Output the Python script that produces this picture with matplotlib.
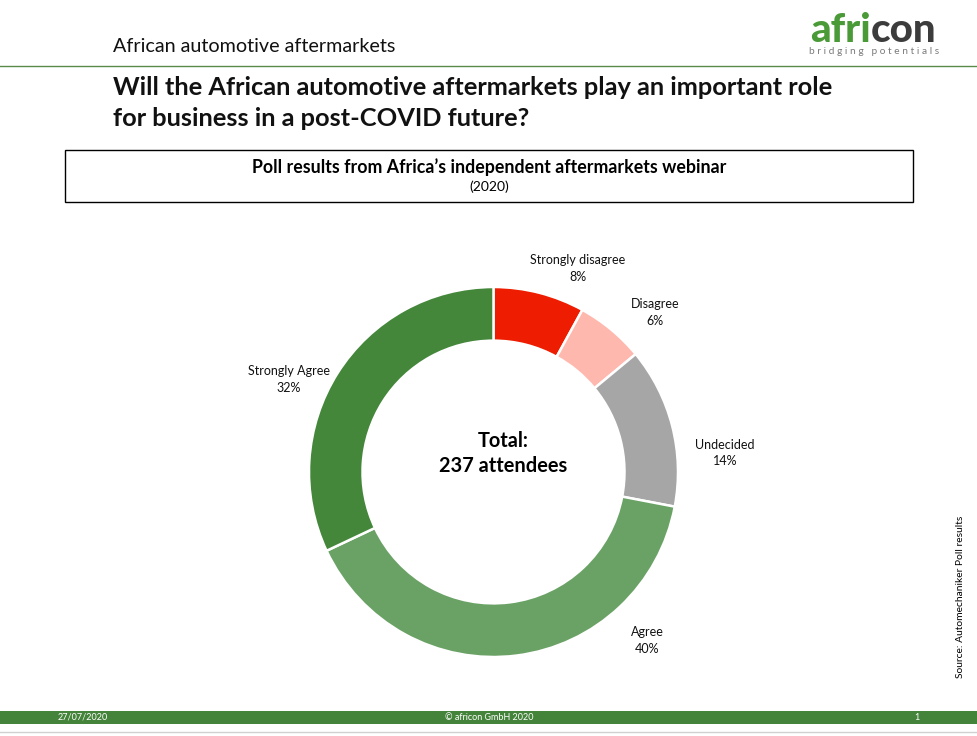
import matplotlib
matplotlib.use("Agg")
import matplotlib.pyplot as plt
from matplotlib.patches import Rectangle

plt.rcParams['font.family'] = ['Lato', 'DejaVu Sans']

# poll data
categories = ['Strongly disagree', 'Disagree', 'Undecided', 'Agree', 'Strongly Agree']
shares = [8, 6, 14, 40, 32]
colors = ['#EE1C00', '#FFB8AE', '#A6A6A6', '#6AA265', '#44873B']
total_attendees = 237

# where the labels sit (pie data units, radius 1)
label_xy = [(0.458, 1.10), (0.875, 0.862), (1.255, 0.103), (0.832, -0.911), (-1.108, 0.499)]

W, H = 978, 736
fig = plt.figure(figsize=(W / 100, H / 100), dpi=100)


def px(x, y):
    return x / W, 1 - y / H


# header
fig.text(*px(113, 46), 'African automotive aftermarkets', fontsize=14.2,
         va='center', ha='left', color='#111111')
fig.add_artist(plt.Line2D([0, 1], [1 - 66 / H] * 2, color='#5A8A4A', lw=1))

# logo
t1 = fig.text(*px(810, 30), 'afri', fontsize=29, fontweight='black', color='#4A9A38',
              va='center', ha='left')
r = fig.canvas.get_renderer()
bb = t1.get_window_extent(r)
fig.text(bb.x1 / W + 0.5 / W, 1 - 30 / H, 'con', fontsize=29, fontweight='black',
         color='#3C3C3C', va='center', ha='left')
fig.text(*px(874, 52), 'b r i d g i n g   p o t e n t i a l s', fontsize=7.3,
         color='#7A7A7A', va='center', ha='center')

# title
fig.text(*px(113, 103), 'Will the African automotive aftermarkets play an important role\n'
         'for business in a post-COVID future?', fontsize=18.3, fontweight='bold',
         va='center', ha='left', linespacing=1.42, color='#111111')

# subtitle box
x0, y0 = px(65, 202)
x1, y1 = px(913, 150)
fig.add_artist(Rectangle((x0, y0), x1 - x0, y1 - y0, transform=fig.transFigure,
                         fill=False, edgecolor='black', lw=1))
fig.text(*px(489, 167), 'Poll results from Africa\u2019s independent aftermarkets webinar',
         fontsize=12.8, fontweight='bold', ha='center', va='center')
fig.text(*px(489, 187), '(2020)', fontsize=10, ha='center', va='center')

# donut
ax = fig.add_axes([309 / W, 1 - 657 / H, 369 / W, 370 / H])
ax.pie(shares, colors=colors, startangle=90, counterclock=False, radius=1,
       wedgeprops=dict(width=0.29, edgecolor='white', linewidth=1.8))
ax.set_xlim(-1, 1)
ax.set_ylim(-1, 1)
ax.set_aspect('auto')
ax.axis('off')

for cat, val, (lx, ly) in zip(categories, shares, label_xy):
    ax.text(lx, ly, f'{cat}\n{val}%', fontsize=9, ha='center', va='center',
            linespacing=1.45, color='#111111')

ax.text(0.05, 0.1, f'Total:\n{total_attendees} attendees', fontsize=14.4,
        fontweight='bold', ha='center', va='center', linespacing=1.35)

# source note
fig.text(*px(961, 597), 'Source: Automechaniker Poll results', fontsize=7.4,
         rotation=90, ha='center', va='center')

# footer
fx0, fy0 = px(0, 724)
fig.add_artist(Rectangle((fx0, fy0), 1, 13 / H, transform=fig.transFigure,
                         color='#44833A', lw=0))
fig.text(*px(58, 717), '27/07/2020', fontsize=6.5, color='white', ha='left', va='center')
fig.text(*px(489, 717), '\u00a9 africon GmbH 2020', fontsize=6.5, color='white',
         ha='center', va='center')
fig.text(*px(917, 717), '1', fontsize=6.5, color='white', ha='center', va='center')
fig.add_artist(plt.Line2D([0, 1], [1 - 732 / H] * 2, color='#D0D0D0', lw=1))

fig.savefig('out.png', dpi=100, facecolor='white')
